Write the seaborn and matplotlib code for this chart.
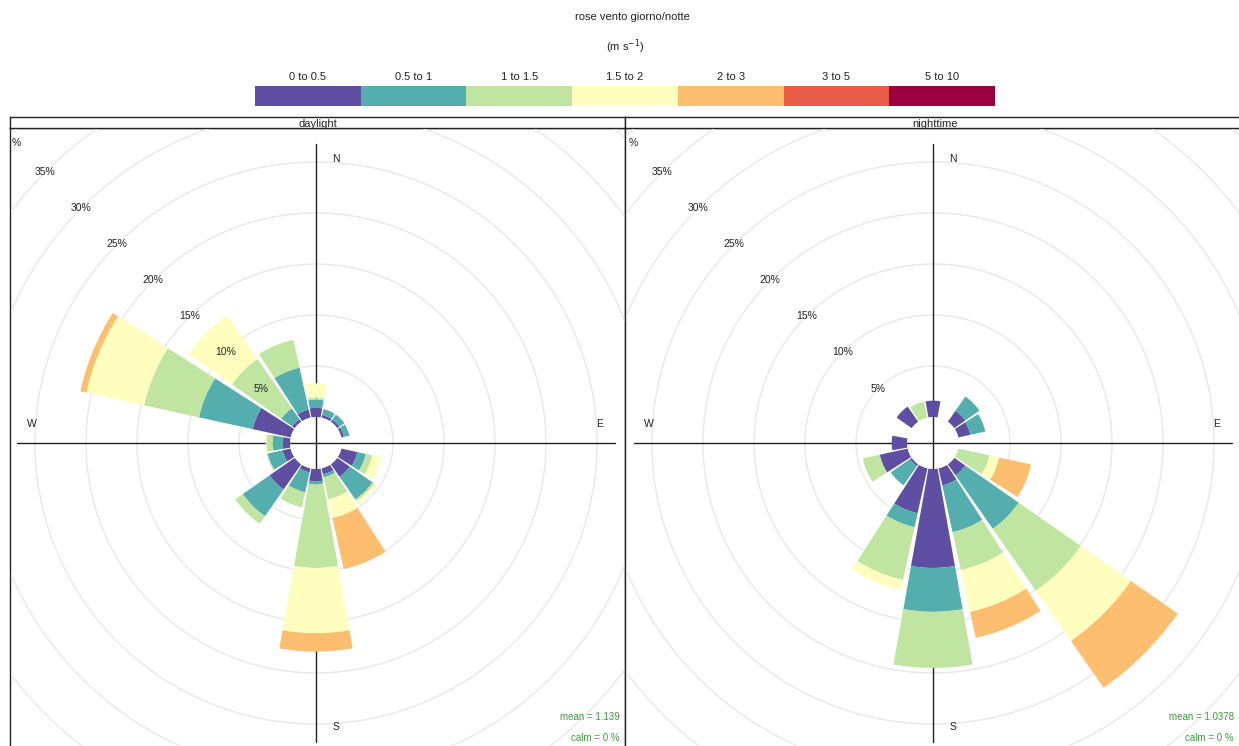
import numpy as np
import matplotlib
matplotlib.use("Agg")
import matplotlib.pyplot as plt
import seaborn as sns
from matplotlib.colors import ListedColormap
from matplotlib.patches import Rectangle
from matplotlib.transforms import offset_copy

# wind directions (degrees, 16 sectors) and speed classes
directions = [0, 22.5, 45, 67.5, 90, 112.5, 135, 157.5, 180, 202.5, 225, 247.5, 270, 292.5, 315, 337.5]
speed_labels = ["0 to 0.5", "0.5 to 1", "1 to 1.5", "1.5 to 2", "2 to 3", "3 to 5", "5 to 10"]

# daylight frequencies (%) per speed class
day_0_05 = [0.9, 0.25, 0.25, 0.25, 0, 1.6, 1.5, 0.6, 1.2, 0.4, 3.0, 0.8, 0.7, 3.8, 0.3, 0.8]
day_05_1 = [0.8, 0.6, 0.6, 0.55, 0, 0.85, 2.7, 0.3, 0.3, 2.0, 3.2, 1.5, 1.0, 5.4, 1.3, 4.2]
day_1_15 = [0.2, 0, 0, 0, 0, 0.65, 0.2, 2.2, 8.2, 1.5, 0.9, 0.1, 0.6, 5.5, 5.9, 2.8]
day_15_2 = [1.4, 0, 0, 0, 0, 0.9, 0.3, 1.9, 6.4, 0, 0, 0, 0.1, 5.8, 5.2, 0]
day_2_3 = [0, 0, 0, 0, 0, 0, 0, 5.1, 1.8, 0, 0, 0, 0, 0.6, 0, 0]
day_3_5 = [0] * 16
day_5_10 = [0] * 16

# nighttime frequencies (%) per speed class
night_0_05 = [1.6, 0, 1.3, 1.2, 0, 0, 1.3, 1.7, 9.7, 4.5, 0.2, 2.8, 1.5, 0, 1.8, 0]
night_05_1 = [0, 0, 1.7, 1.5, 0, 0, 6.4, 4.7, 4.3, 1.4, 2.3, 0, 0, 0, 0, 0]
night_1_15 = [0, 0, 0, 0, 0, 3.1, 7.4, 3.8, 5.5, 5.3, 0, 1.7, 0, 0, 0, 1.6]
night_15_2 = [0, 0, 0, 0, 0, 1.0, 6.0, 4.2, 0, 1.0, 0, 0, 0, 0, 0, 0]
night_2_3 = [0, 0, 0, 0, 0, 3.2, 5.6, 2.6, 0, 0, 0, 0, 0, 0, 0, 0]
night_3_5 = [0] * 16
night_5_10 = [0] * 16

ring_values = [5, 10, 15, 20, 25, 30, 35, 40, 45]
ring_labels = ["5%", "10%", "15%", "20%", "25%", "30%", "35%"]

sns.set_theme(style="white")
plt.rcParams["font.family"] = ["Liberation Sans", "DejaVu Sans"]

colors = plt.get_cmap("Spectral_r")(np.linspace(0, 1, 7))

W, H = 1239, 746
fig = plt.figure(figsize=(W / 100, H / 100), dpi=100)


def px_box(left, top, width, height):
    return [left / W, 1 - (top + height) / H, width / W, height / H]


# title and legend
fig.text(632 / W, 1 - 17 / H, "rose vento giorno/notte", ha="center", va="center", fontsize=8, color="#222")
fig.text(625 / W, 1 - 47 / H, "(m s$^{-1}$)", ha="center", va="center", fontsize=8, color="#222")
lax = fig.add_axes(px_box(255, 86, 740, 20))
sns.heatmap(np.arange(7).reshape(1, -1), cmap=ListedColormap(colors), cbar=False, ax=lax,
            xticklabels=speed_labels, yticklabels=False)
lax.xaxis.tick_top()
lax.tick_params(axis="x", length=0, labelsize=8, pad=3, labelcolor="#222")

per_pct = 10.2          # pixels per percent
hole = 26 / per_pct     # inner hole, in percent
r_max = 45
rad_px = (r_max + hole) * per_pct

panels = [
    ("daylight", 10, 625, 316,
     [day_0_05, day_05_1, day_1_15, day_15_2, day_2_3, day_3_5, day_5_10], "mean = 1.139"),
    ("nighttime", 625, 1245, 933,
     [night_0_05, night_05_1, night_1_15, night_15_2, night_2_3, night_3_5, night_5_10], "mean = 1.0378"),
]

cy = 443
for name, x0, x1, cx, series, mean_txt in panels:
    # panel frame and strip
    fax = fig.add_axes(px_box(x0, 128, x1 - x0, 640))
    fax.set_xticks([]); fax.set_yticks([])
    for s in fax.spines.values():
        s.set_color("#222"); s.set_linewidth(1)
    sax = fig.add_axes(px_box(x0, 117, x1 - x0, 11))
    sax.set_xticks([]); sax.set_yticks([])
    for s in sax.spines.values():
        s.set_color("#222"); s.set_linewidth(1)
    sax.text((cx + 2 - x0) / (x1 - x0), 0.4, name,
             ha="center", va="center", fontsize=8, color="#222", transform=sax.transAxes)

    clip = Rectangle(((x0 + 0.5) / W, 0), (x1 - x0 - 1) / W, (H - 128.5) / H,
                     transform=fig.transFigure, facecolor="none")

    ax = fig.add_axes(px_box(cx - rad_px, cy - rad_px, 2 * rad_px, 2 * rad_px), projection="polar")
    ax.set_theta_zero_location("N")
    ax.set_theta_direction(-1)
    ax.set_ylim(0, r_max)
    ax.set_rorigin(-hole)
    ax.set_axis_off()

    theta_full = np.linspace(0, 2 * np.pi, 721)
    for rv in ring_values:
        ax.plot(theta_full, np.full_like(theta_full, rv), color="#e8e8e8", lw=1.0, zorder=1)

    # compass axis lines
    axis_len = 299 / per_pct - hole
    for ang in [0, 90, 180, 270]:
        ax.plot([np.deg2rad(ang)] * 2, [-hole, axis_len], color="#222", lw=1, zorder=2)

    theta = np.deg2rad(directions)
    bottom = np.zeros(len(directions))
    for vals, col in zip(series, colors):
        vals = np.asarray(vals, dtype=float)
        ax.bar(theta, vals, bottom=bottom, width=np.deg2rad(20.25), color=col,
               edgecolor="none", linewidth=0, zorder=3)
        bottom = bottom + vals

    for rv, lab in zip(ring_values, ring_labels):
        ax.text(np.deg2rad(315), rv, lab, ha="center", va="center", fontsize=7.5, color="#222", zorder=5)
    ax.text(np.deg2rad(315), 39.0, "%", ha="center", va="center", fontsize=7.5, color="#222", zorder=5)

    lab_r = 284 / per_pct - hole
    for ang, lab, dx, dy in [(0, "N", 20, 0), (90, "E", 0, 19), (180, "S", 20, 0), (270, "W", 0, 19)]:
        tr = offset_copy(ax.transData, fig=fig, x=dx, y=dy, units="dots")
        ax.text(np.deg2rad(ang), lab_r, lab, transform=tr, ha="center", va="center",
                fontsize=7.5, color="#222", zorder=5)

    for art in ax.lines + ax.patches + ax.texts:
        art.set_clip_on(True)
        art.set_clip_path(clip)

    xr = min(x1, W) - 5
    fig.text(xr / W, 1 - 717 / H, mean_txt, ha="right", va="center", fontsize=7, color="#3c9a3c")
    fig.text(xr / W, 1 - 738 / H, "calm = 0 %", ha="right", va="center", fontsize=7, color="#3c9a3c")

fig.savefig("out.png", dpi=100)
